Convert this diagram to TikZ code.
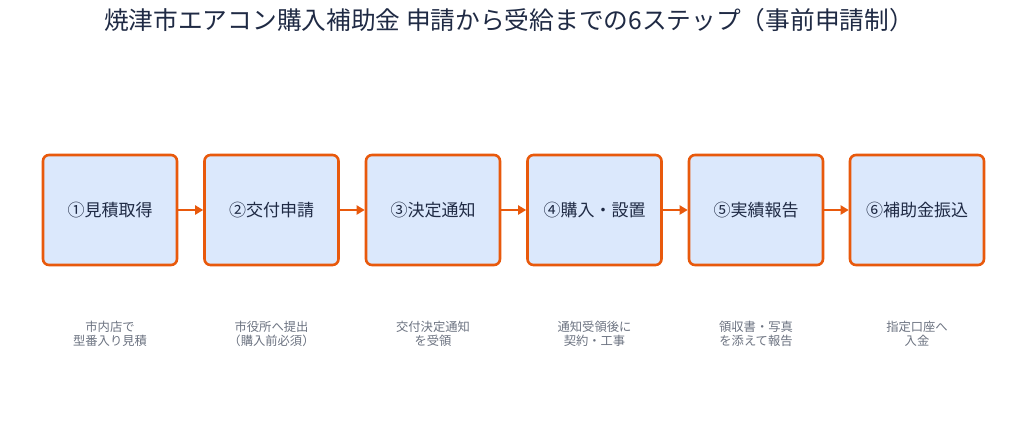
\documentclass[tikz,border=0pt]{standalone}
\usepackage{fontspec}
\setmainfont{Noto Sans CJK JP}
\usetikzlibrary{arrows.meta}
\definecolor{boxfill}{HTML}{DBE8FC}
\definecolor{boxline}{HTML}{E8590C}
\definecolor{titlecol}{HTML}{1F2A44}
\definecolor{subcol}{HTML}{6B7280}
\begin{document}
\begin{tikzpicture}[x=1pt,y=-1pt,
  stepbox/.style={draw=boxline,fill=boxfill,line width=2.6pt,rounded corners=6pt,
    minimum width=134pt,minimum height=110pt,inner sep=0pt,
    font=\fontsize{17}{20}\selectfont,text=titlecol},
  sublabel/.style={font=\fontsize{12.3}{14}\selectfont,text=subcol,align=center},
  flow/.style={draw=boxline,line width=2.6pt,-{Triangle[length=8pt,width=9pt]}}]
\useasboundingbox (0,0) rectangle (1027,432);
\node[font=\fontsize{24.7}{28}\selectfont,text=titlecol] (title) at (509,20) {焼津市エアコン購入補助金 申請から受給までの6ステップ（事前申請制）};
\node[stepbox] (s1) at (110,210) {①見積取得};
\node[stepbox] (s2) at (271.5,210) {②交付申請};
\node[stepbox] (s3) at (433,210) {③決定通知};
\node[stepbox] (s4) at (594.5,210) {④購入・設置};
\node[stepbox] (s5) at (756,210) {⑤実績報告};
\node[stepbox] (s6) at (917,210) {⑥補助金振込};
\draw[flow] (s1) -- (s2);
\draw[flow] (s2) -- (s3);
\draw[flow] (s3) -- (s4);
\draw[flow] (s4) -- (s5);
\draw[flow] (s5) -- (s6);
\node[sublabel] (d1) at (110,334) {市内店で\\型番入り見積};
\node[sublabel] (d2) at (271.5,334) {市役所へ提出\\（購入前必須）};
\node[sublabel] (d3) at (433,334) {交付決定通知\\を受領};
\node[sublabel] (d4) at (594.5,334) {通知受領後に\\契約・工事};
\node[sublabel] (d5) at (756,334) {領収書・写真\\を添えて報告};
\node[sublabel] (d6) at (917,334) {指定口座へ\\入金};
\end{tikzpicture}
\end{document}
